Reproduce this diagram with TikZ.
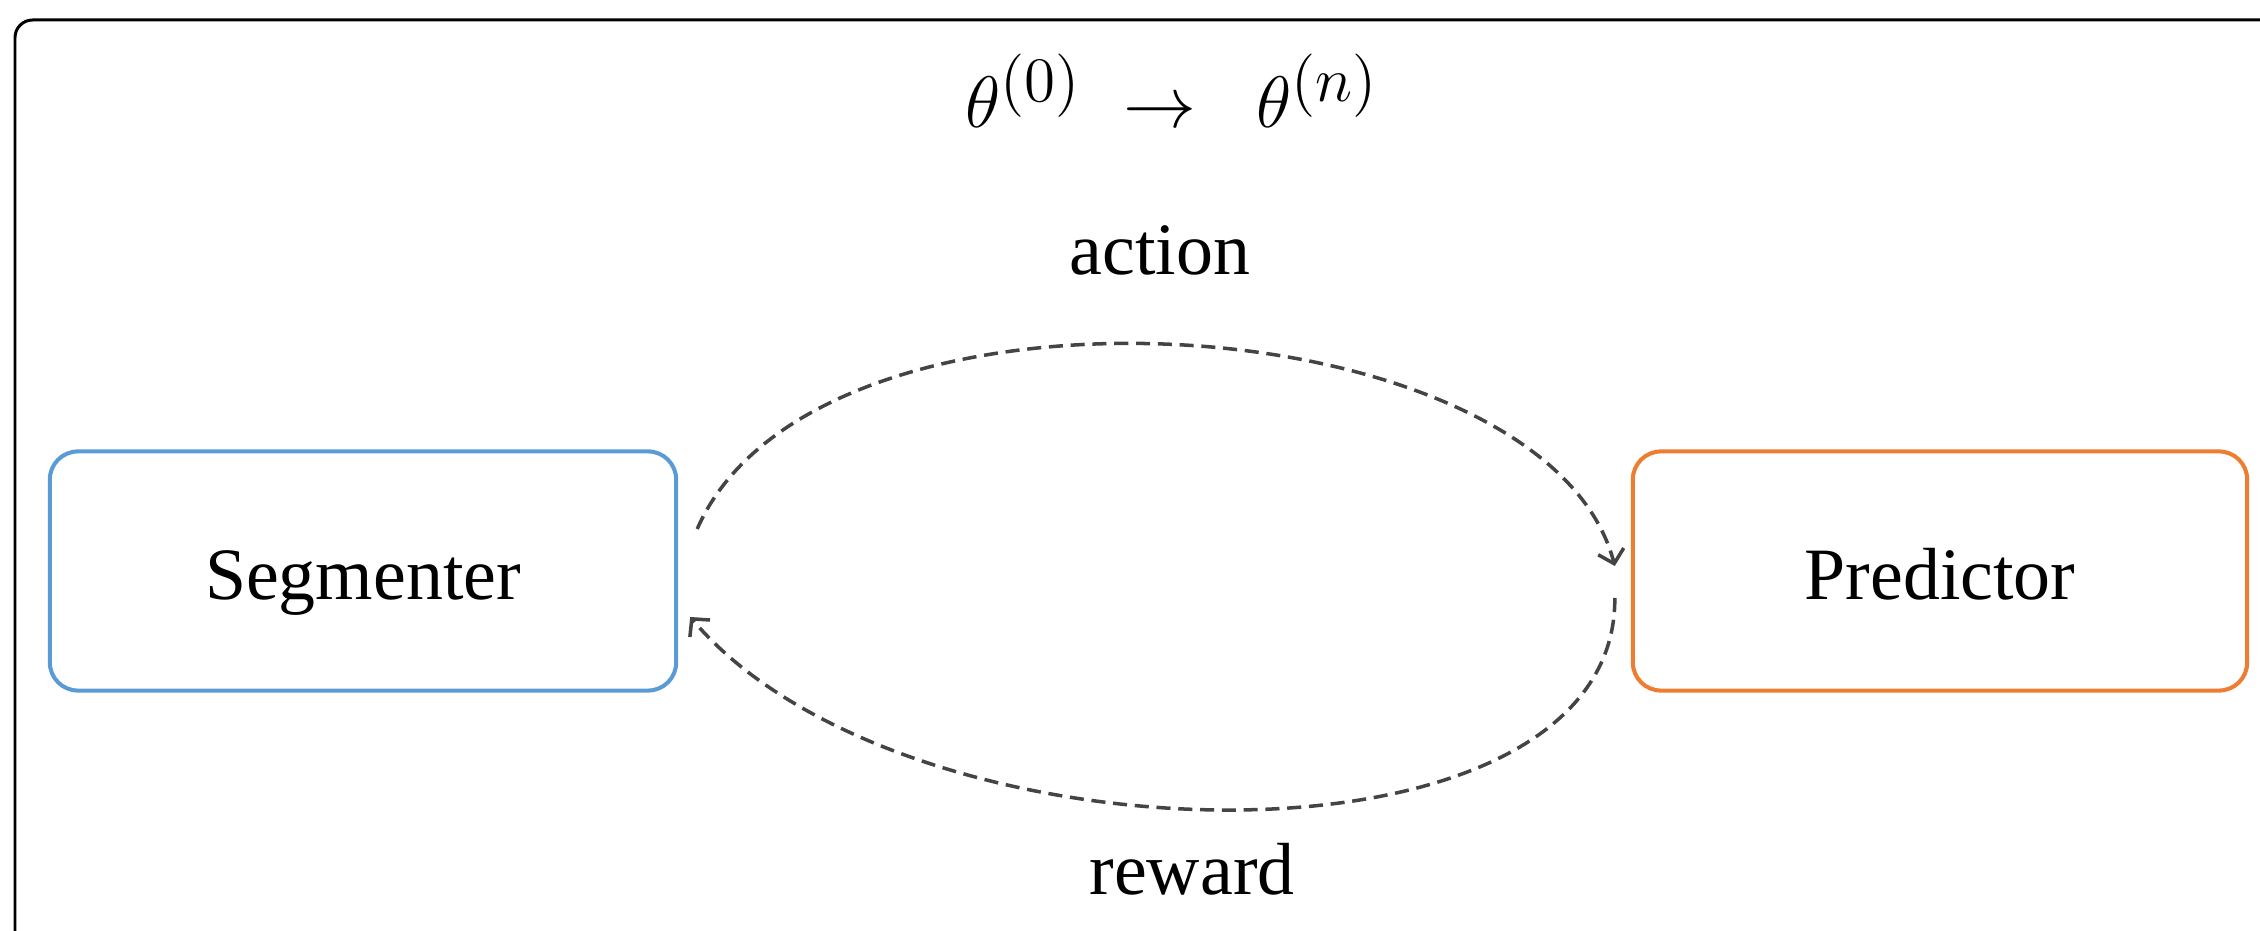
\documentclass[tikz,border=0pt]{standalone}
\usepackage{fontspec}
\usepackage{graphicx}
\setmainfont{Liberation Serif}
\usetikzlibrary{arrows.meta}
\definecolor{segblue}{HTML}{5B9BD5}
\definecolor{predorange}{HTML}{ED7D31}
\definecolor{linkgray}{HTML}{444444}
\newcommand{\bigsup}[1]{\scalebox{1.25}{$\scriptstyle #1$}}
\tikzset{
  agentbox/.style={draw, line width=1.15pt, rounded corners=8pt, minimum width=6.26cm, minimum height=2.39cm, inner sep=0pt, text height=16pt, text depth=0pt, font=\fontsize{21}{25}\selectfont},
  lbl/.style={anchor=base, inner sep=0pt, font=\fontsize{21}{25}\selectfont},
  link/.style={draw=linkgray, line width=1pt, dash pattern=on 4pt off 2.2pt, -{Straight Barb[length=3.6pt,width=7.5pt]}},
  frame/.style={draw=black, line width=0.85pt, rounded corners=5pt}
}
\begin{document}
\begin{tikzpicture}[x=0.01cm, y=-0.01cm]
\useasboundingbox (0,0) rectangle (2260,931);
\clip (0,0) rectangle (2260,931);
\draw[frame] (15,20) rectangle (2320,1000);
\node[agentbox, draw=segblue] (seg) at (363,571) {Segmenter};
\node[agentbox, draw=predorange, minimum width=6.14cm] (pred) at (1940,571) {Predictor};
\node[lbl] (title) at (1172,128) {$\theta^{\bigsup{(0)}}$\hspace{12pt}$\rightarrow$\hspace{17pt}$\theta^{\bigsup{(n)}}$};
\node[lbl] (action) at (1160,275) {action};
\node[lbl] (reward) at (1192,895) {reward};
\draw[link] ([shift={(19,-42)}]seg.east) .. controls +(120,-275) and +(-70,-265) .. ([shift={(-16,-5)}]pred.west);
\draw[link] ([shift={(-16,27)}]pred.west) .. controls +(2,285) and +(215,254) .. ([shift={(12,46)}]seg.east);
\end{tikzpicture}
\end{document}
